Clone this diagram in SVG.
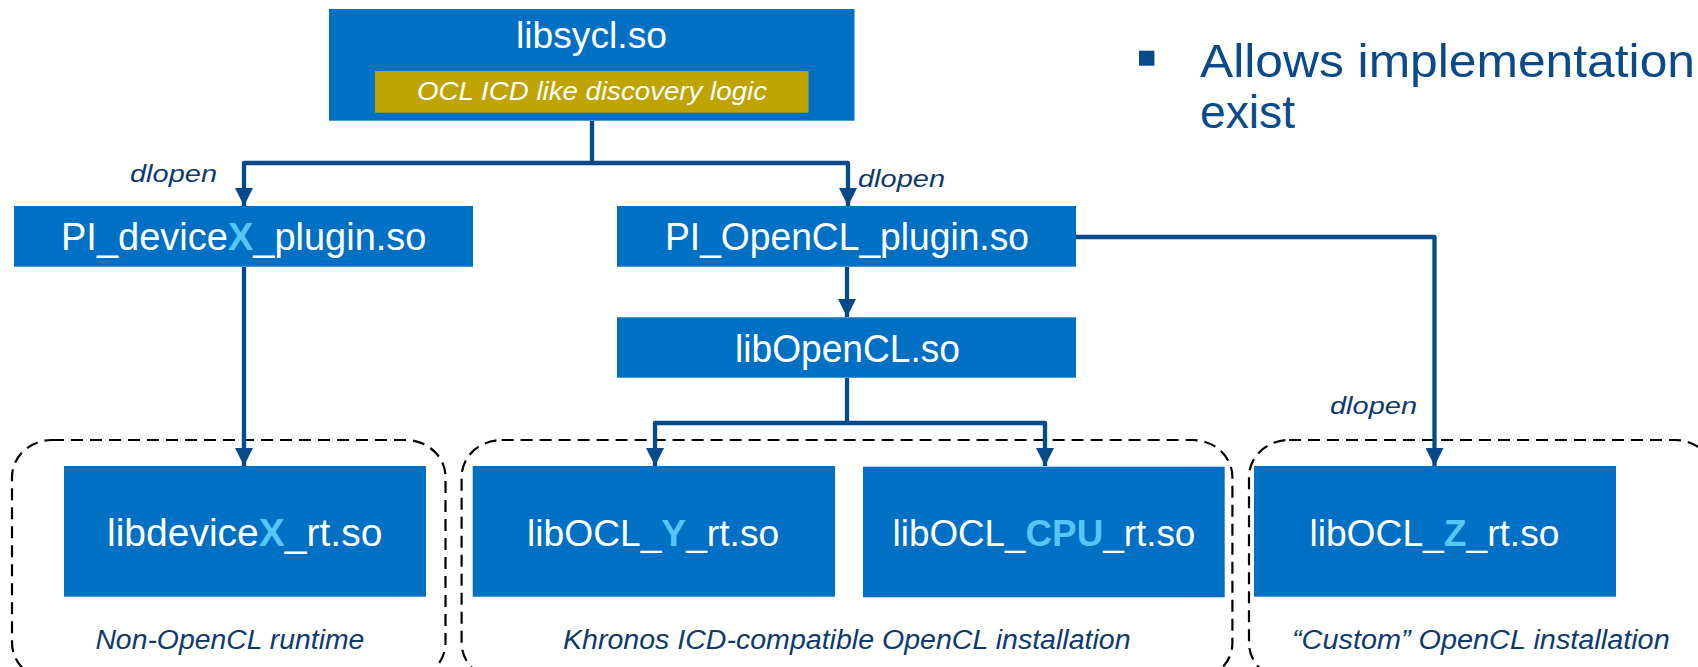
<svg xmlns="http://www.w3.org/2000/svg" width="1698" height="667" viewBox="0 0 1698 667">
<defs>
<style>
.box{fill:#0070C5}
.gold{fill:#BFA300}
.t{font-family:"Liberation Sans",Arial,sans-serif;fill:#FFFFFF}
.hl{fill:#55C6F6;font-weight:bold}
.lbl{font-family:"Liberation Sans",Arial,sans-serif;font-style:italic;fill:#0E3A6E}
.conn{fill:none;stroke:#064A8A;stroke-width:4.3;stroke-linejoin:round}
.grp{fill:none;stroke:#000000;stroke-width:2.2;stroke-dasharray:12 7}
.bul{font-family:"Liberation Sans",Arial,sans-serif;fill:#0A4A8A}
</style>
<marker id="ah" markerUnits="userSpaceOnUse" markerWidth="18" markerHeight="18" viewBox="0 0 16 16" refX="16" refY="8" orient="auto">
<path d="M0,0 L16,8 L0,16 Z" fill="#064A8A"/>
</marker>
</defs>

<g id="groups">
<rect class="grp" x="12" y="440" width="433.5" height="240" rx="40" ry="37"/>
<rect class="grp" x="461.6" y="440" width="770.8" height="240" rx="40" ry="37"/>
<rect class="grp" x="1249" y="440" width="466" height="240" rx="40" ry="37"/>
</g>

<g id="connectors">
<path class="conn" d="M592,121 V163 H244 V206" marker-end="url(#ah)"/>
<path class="conn" d="M592,163 H848 V206" marker-end="url(#ah)"/>
<path class="conn" d="M244,267 V466" marker-end="url(#ah)"/>
<path class="conn" d="M847,267 V317" marker-end="url(#ah)"/>
<path class="conn" d="M847,378 V423 H655 V466" marker-end="url(#ah)"/>
<path class="conn" d="M847,423 H1045 V466" marker-end="url(#ah)"/>
<path class="conn" d="M1076,237 H1434.5 V466" marker-end="url(#ah)"/>
<text class="lbl" x="130" y="181.7" font-size="24" textLength="87" lengthAdjust="spacingAndGlyphs">dlopen</text>
<text class="lbl" x="858" y="186.7" font-size="24" textLength="87" lengthAdjust="spacingAndGlyphs">dlopen</text>
<text class="lbl" x="1330" y="414" font-size="24" textLength="87" lengthAdjust="spacingAndGlyphs">dlopen</text>
</g>

<g id="libsycl">
<rect class="box" x="329" y="9" width="525.5" height="111.7"/>
<text class="t" x="516" y="48" font-size="37" textLength="151" lengthAdjust="spacingAndGlyphs">libsycl.so</text>
<rect class="gold" x="375" y="71" width="433.5" height="41.7"/>
<text class="t" x="417" y="100" font-size="26" font-style="italic" textLength="350" lengthAdjust="spacingAndGlyphs">OCL ICD like discovery logic</text>
</g>

<g id="pi_devicex">
<rect class="box" x="14" y="206" width="459" height="60.7"/>
<text class="t" x="61" y="250" font-size="38">PI_device<tspan class="hl">X</tspan>_plugin.so</text>
</g>

<g id="pi_opencl">
<rect class="box" x="617" y="206" width="459" height="60.7"/>
<text class="t" x="665" y="250" font-size="38" textLength="364" lengthAdjust="spacingAndGlyphs">PI_OpenCL_plugin.so</text>
</g>

<g id="libopencl">
<rect class="box" x="617" y="317.3" width="459" height="60.4"/>
<text class="t" x="735" y="361.5" font-size="38" textLength="225" lengthAdjust="spacingAndGlyphs">libOpenCL.so</text>
</g>

<g id="libdevicex_rt">
<rect class="box" x="64" y="466" width="362" height="130.7"/>
<text class="t" x="107" y="546" font-size="39">libdevice<tspan class="hl">X</tspan>_rt.so</text>
</g>

<g id="libocl_y_rt">
<rect class="box" x="472.7" y="466" width="362.3" height="130.7"/>
<text class="t" x="527" y="546" font-size="37.2">libOCL_<tspan class="hl">Y</tspan>_rt.so</text>
</g>

<g id="libocl_cpu_rt">
<rect class="box" x="863" y="466.7" width="361.7" height="130.6"/>
<text class="t" x="892.6" y="546" font-size="36.8">libOCL_<tspan class="hl">CPU</tspan>_rt.so</text>
</g>

<g id="libocl_z_rt">
<rect class="box" x="1254" y="466" width="362" height="130.7"/>
<text class="t" x="1309.4" y="546" font-size="37.2">libOCL_<tspan class="hl">Z</tspan>_rt.so</text>
</g>

<g id="group_labels">
<text class="lbl" x="95.4" y="649" font-size="27" textLength="269" lengthAdjust="spacingAndGlyphs">Non-OpenCL runtime</text>
<text class="lbl" x="563" y="649" font-size="27" textLength="567.6" lengthAdjust="spacingAndGlyphs">Khronos ICD-compatible OpenCL installation</text>
<text class="lbl" x="1292" y="649" font-size="27" textLength="377.7" lengthAdjust="spacingAndGlyphs">“Custom” OpenCL installation</text>
</g>

<g id="bullet">
<rect x="1139" y="50.7" width="15.4" height="15" fill="#0A4A8A"/>
<text class="bul" x="1200" y="77.3" font-size="47" textLength="495" lengthAdjust="spacingAndGlyphs">Allows implementation</text>
<text class="bul" x="1200" y="128.3" font-size="47" textLength="95" lengthAdjust="spacingAndGlyphs">exist</text>
</g>
</svg>
